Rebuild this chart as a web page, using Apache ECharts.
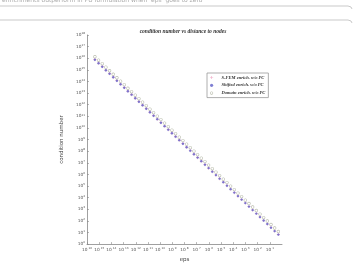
<!DOCTYPE html>
<html><head><meta charset="utf-8">
<script src="https://cdn.jsdelivr.net/npm/echarts@6/dist/echarts.min.js"></script>
<style>html,body{margin:0;padding:0;background:#fff}#c{width:356px;height:268px}</style>
</head><body><div id="c"></div>
<script>
const epsValues = [4.44e-16,8.88e-16,1.78e-15,3.55e-15,7.11e-15,1.42e-14,2.84e-14,5.68e-14,1.14e-13,2.27e-13,4.55e-13,9.09e-13,1.82e-12,3.64e-12,7.28e-12,1.46e-11,2.91e-11,5.82e-11,1.16e-10,2.33e-10,4.66e-10,9.31e-10,1.86e-9,3.73e-9,7.45e-9,1.49e-8,2.98e-8,5.96e-8,1.19e-7,2.38e-7,4.77e-7,9.54e-7,1.91e-6,3.81e-6,7.63e-6,1.53e-5,3.05e-5,6.10e-5,1.22e-4,2.44e-4,4.88e-4,9.77e-4,1.95e-3,3.91e-3,7.81e-3,1.56e-2,3.13e-2,6.25e-2,0.125,0.25,0.5];
const sfemCond = [7.6e15,3.8e15,1.9e15,9.5e14,4.7e14,2.35e14,1.18e14,5.9e13,2.95e13,1.48e13,7.4e12,3.7e12,1.84e12,9.2e11,4.6e11,2.3e11,1.15e11,5.8e10,2.9e10,1.44e10,7.2e9,3.6e9,1.8e9,9.0e8,4.5e8,2.25e8,1.13e8,5.6e7,2.8e7,1.4e7,7.0e6,3.5e6,1.76e6,8.8e5,4.4e5,2.2e5,1.1e5,5.5e4,2.75e4,1.37e4,6.9e3,3.45e3,1.72e3,860,430,215,108,54,27,13.5,6.8];
const shiftedCond = [7.4e15,3.7e15,1.86e15,9.3e14,4.6e14,2.3e14,1.16e14,5.8e13,2.9e13,1.45e13,7.3e12,3.6e12,1.81e12,9.1e11,4.5e11,2.27e11,1.13e11,5.7e10,2.8e10,1.42e10,7.1e9,3.5e9,1.77e9,8.9e8,4.4e8,2.2e8,1.11e8,5.5e7,2.8e7,1.38e7,6.9e6,3.5e6,1.73e6,8.7e5,4.3e5,2.16e5,1.08e5,5.4e4,2.7e4,1.35e4,6.8e3,3.4e3,1.69e3,845,422,211,106,53,26,13.2,6.6];
const domainCond = [1.35e16,6.8e15,3.4e15,1.7e15,8.4e14,4.2e14,2.1e14,1.06e14,5.3e13,2.6e13,1.32e13,6.6e12,3.3e12,1.65e12,8.2e11,4.1e11,2.06e11,1.03e11,5.2e10,2.6e10,1.29e10,6.4e9,3.2e9,1.61e9,8.1e8,4.0e8,2.0e8,1.01e8,5.0e7,2.5e7,1.26e7,6.3e6,3.1e6,1.57e6,7.9e5,3.9e5,1.97e5,9.8e4,4.9e4,2.46e4,1.23e4,6.1e3,3.1e3,1.54e3,770,384,192,96,48,24,12];
const seriesNames = ['S-FEM enrich. w/o PC','Shifted enrich. w/o PC','Domain enrich. w/o PC'];
const titleText = 'condition number vs distance to nodes';
const captionText = 'enrichments outperform in PU formulation when \u2018eps\u2019 goes to zero';

function pairs(ys){ return epsValues.map((x,i)=>[x, ys[i]]); }
function sup(v){
  const e = Math.round(Math.log10(v));
  return '{b|10}{e|' + e + '}';
}
const rich = {
  b:{fontSize:4.3, color:'#555', fontFamily:'DejaVu Sans'},
  e:{fontSize:2.8, color:'#555', fontFamily:'DejaVu Sans', verticalAlign:'bottom', padding:[0,0,3,0]}
};
const ringPath = 'path://M5,0A5,5 0 1,1 4.99,0ZM5,1.8A3.2,3.2 0 1,0 5.01,1.8Z';
const plusPath = 'path://M4,0L6,0L6,4L10,4L10,6L6,6L6,10L4,10L4,6L0,6L0,4L4,4Z';
const chart = echarts.init(document.getElementById('c'), null, {renderer:'canvas'});
chart.setOption({
  animation:false,
  backgroundColor:'#fff',
  title:{text:titleText, left:178, top:24, textAlign:'center',
    textStyle:{fontSize:5.5, fontStyle:'italic', fontWeight:'bold', fontFamily:'Liberation Serif', color:'#333'}},
  grid:{left:87, right:74, top:35, bottom:23},
  legend:{orient:'vertical', left:207, top:73, itemWidth:10, itemHeight:3.2, itemGap:2.8,
    padding:[2,3,2,3], borderColor:'#999', borderWidth:0.8, backgroundColor:'#fff',
    textStyle:{fontSize:4.5, fontStyle:'italic', fontWeight:'bold', fontFamily:'Liberation Serif', color:'#333'},
    data:seriesNames},
  xAxis:{type:'log', logBase:10, min:1e-16, max:1, interval:1,
    name:'eps', nameLocation:'middle', nameGap:10,
    nameTextStyle:{fontSize:5.5, color:'#444', fontFamily:'DejaVu Sans'},
    axisLine:{lineStyle:{color:'#888', width:0.8}},
    axisTick:{inside:true, length:2, lineStyle:{color:'#888', width:0.6}},
    splitLine:{show:false},
    axisLabel:{margin:3, showMaxLabel:false, formatter:sup, rich:rich}},
  yAxis:{type:'log', logBase:10, min:1, max:1e18, interval:1,
    name:'condition number', nameLocation:'middle', nameGap:11, nameRotate:90,
    nameTextStyle:{fontSize:5.5, color:'#444', fontFamily:'DejaVu Sans'},
    axisLine:{show:true, lineStyle:{color:'#888', width:0.8}},
    axisTick:{show:true, inside:true, length:2, lineStyle:{color:'#888', width:0.6}},
    splitLine:{show:false},
    axisLabel:{margin:2, formatter:sup, rich:rich}},
  series:[
    {name:seriesNames[0], type:'scatter', data:pairs(sfemCond),
      symbol:plusPath, symbolSize:3.2, itemStyle:{color:'#ee99bb'}},
    {name:seriesNames[1], type:'scatter', data:pairs(shiftedCond),
      symbol:'circle', symbolSize:2.4, itemStyle:{color:'#5f5fc8'}},
    {name:seriesNames[2], type:'scatter', data:pairs(domainCond),
      symbol:ringPath, symbolSize:3.4, itemStyle:{color:'#a3a892'}}
  ],
  graphic:[
    {type:'text', left:2, top:-3, style:{text:captionText, fontSize:6, fill:'#aaa', fontFamily:'DejaVu Sans'}},
    {type:'polyline', shape:{points:[[0,6],[348,6],[351,7],[352,9]]}, style:{stroke:'#bbb', fill:null, lineWidth:0.8}},
    {type:'polyline', shape:{points:[[0,20],[348,20],[351,21],[352,23]]}, style:{stroke:'#bbb', fill:null, lineWidth:0.8}}
  ]
});
</script></body></html>
